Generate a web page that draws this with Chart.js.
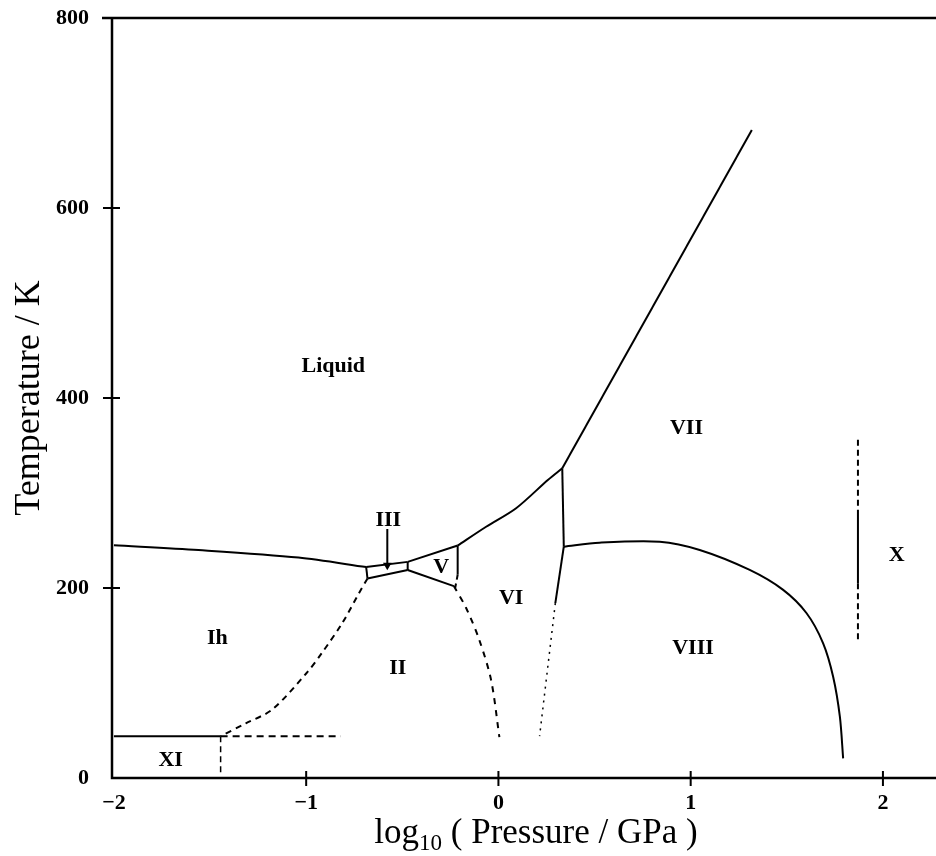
<!DOCTYPE html>
<html>
<head>
<meta charset="utf-8">
<script src="https://cdn.jsdelivr.net/npm/chart.js@4.4.1/dist/chart.umd.min.js"></script>
<style>
body { margin: 0; background: #fff; }
#caja { width: 936px; height: 856px; }
</style>
</head>
<body>
<div id="caja"><canvas id="grafica"></canvas></div>
<script>
// ejes: log10(P / GPa) y T / K
const xTicks = [-2, -1, 0, 1, 2];
const yTicks = [0, 200, 400, 600, 800];

// fronteras de fase
const ihLiqP = [-2, -1.56, -1.04, -0.688];
const ihLiqT = [245, 240, 232, 222];
const iiiTopP = [-0.688, -0.472];
const iiiTopT = [222, 227.5];
const iiiLeftP = [-0.688, -0.681];
const iiiLeftT = [222, 210];
const iiiBotP = [-0.681, -0.472];
const iiiBotT = [210, 219];
const iiiRightP = [-0.472, -0.472];
const iiiRightT = [227.5, 219];
const liqVP = [-0.472, -0.212];
const liqVT = [227.5, 244.7];
const vIIP = [-0.472, -0.232];
const vIIT = [219, 202];
const vViP = [-0.212, -0.212];
const vViT = [244.7, 214];
const vViDashP = [-0.212, -0.225];
const vViDashT = [214, 200];
const iiViP = [-0.232, -0.168, -0.099, -0.038, 0.005];
const iiViT = [202, 179, 145, 103, 43];
const ihIiP = [-0.681, -0.724, -0.8125, -0.917, -1.0, -1.177, -1.314, -1.445];
const ihIiT = [210, 195, 163, 132, 110, 72, 57.6, 44];
const liqViP = [-0.212, -0.064, 0.092, 0.257, 0.332];
const liqViT = [244.7, 264.5, 284, 313.7, 326];
const liqViiP = [0.332, 1.318];
const liqViiT = [326, 682];
const viViiP = [0.332, 0.34];
const viViiT = [326, 243.5];
const viViiiP = [0.34, 0.296];
const viViiiT = [243.5, 184];
const viViiiDotP = [0.296, 0.214];
const viViiiDotT = [184, 44];
const viiViiiP = [0.34, 0.526, 0.839, 1.047, 1.307, 1.481, 1.603, 1.689, 1.741, 1.776, 1.793];
const viiViiiT = [243.5, 247.7, 248.7, 240, 219, 198, 173.4, 141.8, 106.6, 64.5, 20.7];
const xiIhP = [-2, -1.445];
const xiIhT = [44, 44];
const xiIiP = [-1.445, -0.82];
const xiIiT = [44, 44];
const xiVertP = [-1.445, -1.445];
const xiVertT = [44, 4];
const xLineP = [1.87, 1.87];
const xLineTopT = [356, 282];
const xLineMidT = [282, 205];
const xLineBotT = [205, 145];
const flechaP = [-0.578, -0.578];
const flechaT = [262, 224];

// nombres de las fases
const fases = ["Liquid", "III", "V", "VI", "II", "Ih", "XI", "VII", "VIII", "X"];
const fasesP = [-0.859, -0.573, -0.298, 0.066, -0.524, -1.462, -1.705, 0.978, 1.012, 2.071];
const fasesT = [433.7, 271.6, 222, 189, 115.5, 147, 19, 368, 136.5, 234.7];

function puntos(xs, ys) {
    return xs.map((v, i) => ({ x: v, y: ys[i] }));
}

function linea(xs, ys, dash, ancho, tension) {
    return {
        data: puntos(xs, ys),
        borderColor: "#000",
        borderWidth: ancho || 2,
        borderDash: dash || [],
        pointRadius: 0,
        showLine: true,
        fill: false,
        tension: tension || 0
    };
}

const flecha = linea(flechaP, flechaT, [], 2);
flecha.pointRadius = [0, 5];
flecha.pointStyle = "triangle";
flecha.rotation = 180;
flecha.pointBackgroundColor = "#000";
flecha.pointBorderWidth = 0;

const fuente = '"Liberation Serif", "DejaVu Serif", serif';

const marcos = {
    id: "marcos",
    afterDraw(chart) {
        const { ctx, chartArea: a, scales: { x, y } } = chart;
        ctx.save();
        ctx.strokeStyle = "#000";
        ctx.lineWidth = 2.5;
        ctx.beginPath();
        ctx.moveTo(a.left - 10, a.top);
        ctx.lineTo(chart.width, a.top);
        ctx.moveTo(a.left, a.top);
        ctx.lineTo(a.left, a.bottom);
        ctx.lineTo(chart.width, a.bottom);
        ctx.stroke();
        ctx.lineWidth = 2;
        ctx.beginPath();
        yTicks.forEach(v => {
            if (v === 0) return;
            const py = y.getPixelForValue(v);
            ctx.moveTo(a.left - 9, py);
            ctx.lineTo(v === 800 ? a.left : a.left + 8, py);
        });
        xTicks.forEach(v => {
            if (v === -2) return;
            const px = x.getPixelForValue(v);
            ctx.moveTo(px, a.bottom - 7);
            ctx.lineTo(px, a.bottom + 8);
        });
        ctx.stroke();

        ctx.fillStyle = "#000";
        ctx.font = "bold 22px " + fuente;
        ctx.textAlign = "center";
        ctx.textBaseline = "middle";
        fases.forEach((f, i) => {
            ctx.fillText(f, x.getPixelForValue(fasesP[i]), y.getPixelForValue(fasesT[i]));
        });

        // titulo eje y
        ctx.save();
        ctx.translate(30, (a.top + a.bottom) / 2);
        ctx.rotate(-Math.PI / 2);
        ctx.font = "36px " + fuente;
        ctx.textBaseline = "middle";
        ctx.fillText("Temperature / K", 0, 0);
        ctx.restore();

        // titulo eje x con subindice
        const grande = "35px " + fuente;
        const chico = "23px " + fuente;
        const partes = [["log", grande, 0], ["10", chico, 7], [" ( Pressure / GPa )", grande, 0]];
        let total = 0;
        partes.forEach(p => { ctx.font = p[1]; total += ctx.measureText(p[0]).width; });
        let cx = 536 - total / 2;
        const base = 843;
        ctx.textAlign = "left";
        ctx.textBaseline = "alphabetic";
        partes.forEach(p => {
            ctx.font = p[1];
            ctx.fillText(p[0], cx, base + p[2]);
            cx += ctx.measureText(p[0]).width;
        });
        ctx.restore();
    }
};

const ctx = document.getElementById("grafica").getContext("2d");
new Chart(ctx, {
    type: "scatter",
    data: {
        datasets: [
            linea(ihLiqP, ihLiqT, [], 2, 0.3),
            linea(iiiTopP, iiiTopT),
            linea(iiiLeftP, iiiLeftT),
            linea(iiiBotP, iiiBotT),
            linea(iiiRightP, iiiRightT),
            linea(liqVP, liqVT),
            linea(vIIP, vIIT),
            linea(vViP, vViT),
            linea(vViDashP, vViDashT, [5, 4]),
            linea(iiViP, iiViT, [6, 6], 2, 0.3),
            linea(ihIiP, ihIiT, [6, 5], 2, 0.3),
            linea(liqViP, liqViT, [], 2, 0.3),
            linea(liqViiP, liqViiT),
            linea(viViiP, viViiT),
            linea(viViiiP, viViiiT),
            linea(viViiiDotP, viViiiDotT, [2, 5], 1.5),
            linea(viiViiiP, viiViiiT, [], 2, 0.3),
            linea(xiIhP, xiIhT),
            linea(xiIiP, xiIiT, [7, 5]),
            linea(xiVertP, xiVertT, [6, 4], 1.5),
            linea(xLineP, xLineTopT, [6, 4]),
            linea(xLineP, xLineMidT),
            linea(xLineP, xLineBotT, [6, 4]),
            flecha
        ]
    },
    options: {
        responsive: true,
        maintainAspectRatio: false,
        animation: false,
        layout: { padding: { top: 18, right: 0, left: 0, bottom: 0 } },
        plugins: { legend: { display: false }, tooltip: { enabled: false } },
        scales: {
            x: {
                type: "linear",
                min: -2.01,
                max: 2.25,
                grid: { display: false, drawTicks: false },
                border: { display: false },
                afterBuildTicks: s => { s.ticks = xTicks.map(v => ({ value: v })); },
                afterFit: s => { s.height = 78; s.paddingLeft = 0; s.paddingRight = 0; },
                ticks: {
                    padding: 12,
                    color: "#000",
                    font: { family: fuente, size: 22, weight: "bold" },
                    callback: v => String(v).replace("-", "\u2212")
                }
            },
            y: {
                type: "linear",
                min: 0,
                max: 800,
                grid: { display: false, drawTicks: false },
                border: { display: false },
                afterBuildTicks: s => { s.ticks = yTicks.map(v => ({ value: v })); },
                afterFit: s => { s.width = 112; s.paddingTop = 0; s.paddingBottom = 0; },
                ticks: {
                    padding: 23,
                    color: "#000",
                    font: { family: fuente, size: 22, weight: "bold" }
                }
            }
        }
    },
    plugins: [marcos]
});
</script>
</body>
</html>
